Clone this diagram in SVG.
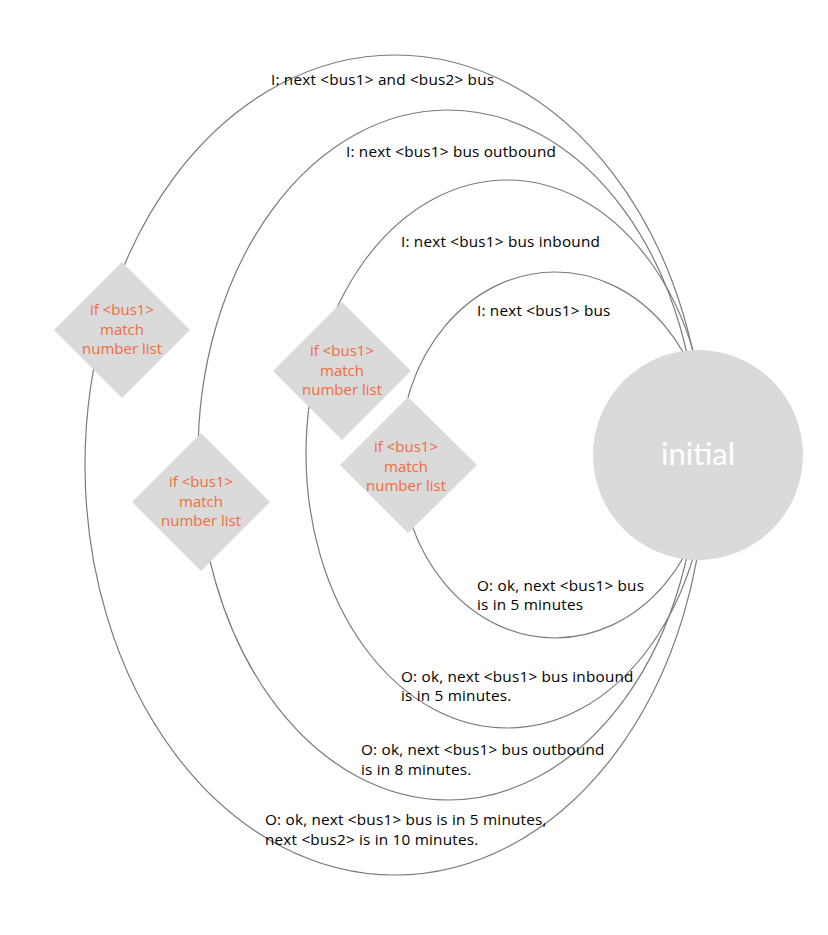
<svg xmlns="http://www.w3.org/2000/svg" width="828" height="935" viewBox="0 0 828 935">
<style>
.bg{fill:#ffffff}
.conn{fill:none;stroke:#7a7a7a;stroke-width:1.2}
.dia{fill:#dadada}
.dtx{font-family:"Open Sans","Noto Sans",sans-serif;font-size:15px;fill:#f26c3c;text-anchor:middle}
.lbl{font-family:"Open Sans","Noto Sans",sans-serif;font-size:15.3px;letter-spacing:0.2px;fill:#000000}
.init{fill:#dadada}
.itx{font-family:Lato,"Noto Sans",sans-serif;font-size:31px;fill:#ffffff;text-anchor:middle}
</style>
<rect class="bg" x="0" y="0" width="828" height="935"/>
<g id="connectors">
  <ellipse class="conn" cx="395" cy="465" rx="310" ry="410"/>
  <ellipse class="conn" cx="448" cy="455" rx="250" ry="345"/>
  <ellipse class="conn" cx="507" cy="454" rx="201" ry="274"/>
  <ellipse class="conn" cx="555" cy="455" rx="155" ry="183"/>
</g>
<g id="labels">
  <text class="lbl" x="271" y="85">I: next &lt;bus1&gt; and &lt;bus2&gt; bus</text>
  <text class="lbl" x="346" y="157">I: next &lt;bus1&gt; bus outbound</text>
  <text class="lbl" x="401" y="247">I: next &lt;bus1&gt; bus inbound</text>
  <text class="lbl" x="477" y="316">I: next &lt;bus1&gt; bus</text>
  <text class="lbl" x="477" y="591">O: ok, next &lt;bus1&gt; bus</text>
  <text class="lbl" x="477" y="610">is in 5 minutes</text>
  <text class="lbl" x="401" y="682">O: ok, next &lt;bus1&gt; bus inbound</text>
  <text class="lbl" x="401" y="701">is in 5 minutes.</text>
  <text class="lbl" x="361" y="755">O: ok, next &lt;bus1&gt; bus outbound</text>
  <text class="lbl" x="361" y="775">is in 8 minutes.</text>
  <text class="lbl" x="265" y="825">O: ok, next &lt;bus1&gt; bus is in 5 minutes,</text>
  <text class="lbl" x="265" y="845">next &lt;bus2&gt; is in 10 minutes.</text>
</g>
<g id="cond1">
  <polygon class="dia" points="122,262 190,330 122,398 54,330"/>
  <text class="dtx" x="122" y="315">if &lt;bus1&gt;</text>
  <text class="dtx" x="122" y="335">match</text>
  <text class="dtx" x="122" y="354">number list</text>
</g>
<g id="cond2">
  <polygon class="dia" points="201,433 270,502 201,571 132,502"/>
  <text class="dtx" x="201" y="487">if &lt;bus1&gt;</text>
  <text class="dtx" x="201" y="507">match</text>
  <text class="dtx" x="201" y="526">number list</text>
</g>
<g id="cond3">
  <polygon class="dia" points="342,302 411,371 342,440 273,371"/>
  <text class="dtx" x="342" y="356">if &lt;bus1&gt;</text>
  <text class="dtx" x="342" y="376">match</text>
  <text class="dtx" x="342" y="395">number list</text>
</g>
<g id="cond4">
  <polygon class="dia" points="408,397 477,465 408,533 340,465"/>
  <text class="dtx" x="406" y="452">if &lt;bus1&gt;</text>
  <text class="dtx" x="406" y="472">match</text>
  <text class="dtx" x="406" y="491">number list</text>
</g>
<g id="initial">
  <circle class="init" cx="698" cy="455" r="105"/>
  <text class="itx" x="698" y="465">initial</text>
</g>
</svg>
